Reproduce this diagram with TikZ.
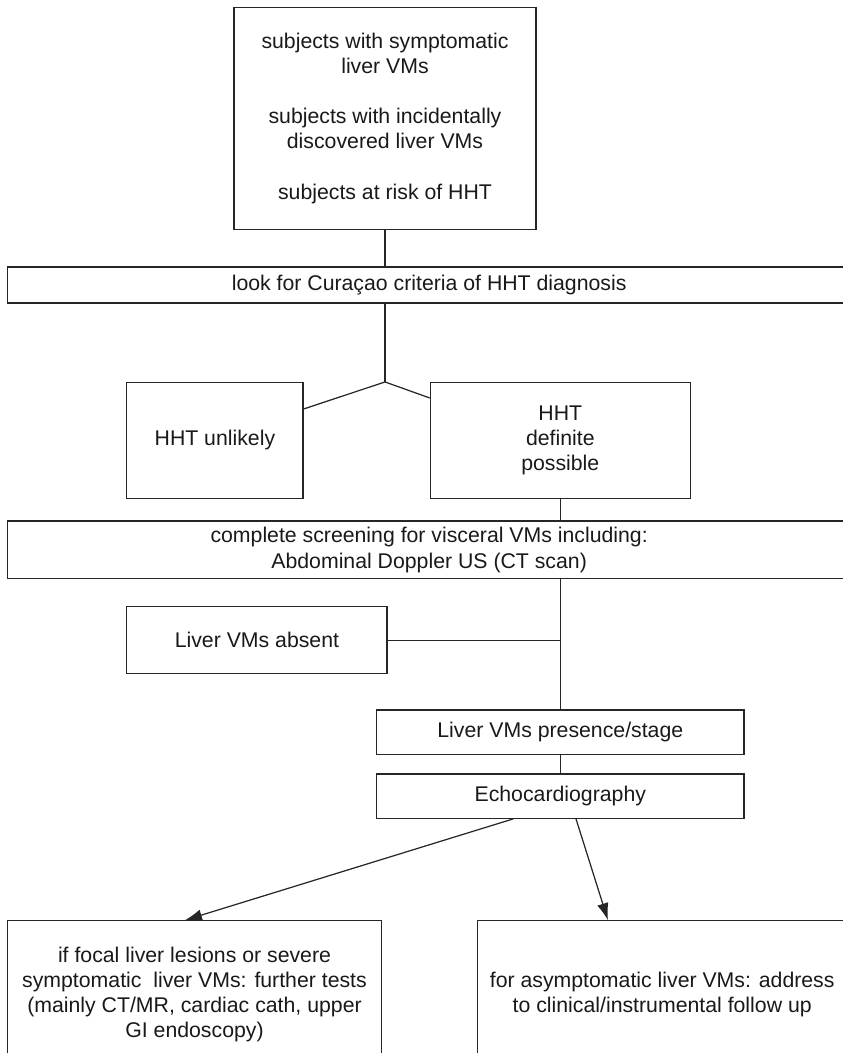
\documentclass[tikz,border=0pt]{standalone}
\usepackage{fontspec}
\setmainfont{Liberation Sans}
\usetikzlibrary{arrows.meta,positioning,calc}

\begin{document}
\begin{tikzpicture}[font=\fontsize{12.1}{14.3}\selectfont,node distance=4mm,line width=0.7pt,
  box/.style={draw=black!85,line width=0.7pt,align=center,inner sep=0pt,text=black!90},
  bar/.style={box,minimum width=168.74mm},
  link/.style={draw=black!85,line width=0.7pt},
  arrow/.style={link,-{Latex[length=3.4mm,width=2.3mm]}}]
\useasboundingbox (0,0) rectangle (168.6mm,-210.6mm);
\node[box,minimum width=60.4mm,minimum height=44.4mm] (subj) at (77mm,-23.66mm)
  {subjects with symptomatic\\liver VMs\\[5.06mm]subjects with incidentally\\discovered liver VMs\\[5.06mm]subjects at risk of HHT};
\node[bar,minimum height=7.2mm,below=7.3mm of subj,xshift=8.83mm] (cura) {look for Curaçao criteria of HHT diagnosis};
\node[box,minimum width=52mm,minimum height=23.14mm,below=15.66mm of cura,xshift=26.23mm] (definite) {HHT\\definite\\possible};
\node[box,minimum width=35.26mm,minimum height=23.14mm,left=25.2mm of definite] (unlikely) {HHT unlikely};
\node[bar,minimum height=11.54mm,below=4.32mm of definite,xshift=-26.23mm] (screen) {complete screening for visceral VMs including:\\Abdominal Doppler US (CT scan)};
\node[box,minimum width=52.06mm,minimum height=13.4mm,anchor=north west] (absent) at ([yshift=-5.34mm]screen.south -| unlikely.west) {Liver VMs absent};
\node[box,minimum width=73.46mm,minimum height=8.86mm,below=26mm of screen,xshift=26.23mm] (presence) {Liver VMs presence/stage};
\node[box,minimum width=73.46mm,minimum height=8.86mm,below=3.68mm of presence] (echo) {Echocardiography};
\node[box,minimum width=74.88mm,minimum height=29.54mm,below=20.26mm of echo,xshift=-73.16mm] (further)
  {if focal liver lesions or severe\\symptomatic~ liver VMs: further tests\\(mainly CT/MR, cardiac cath, upper\\GI endoscopy)};
\node[box,minimum width=74mm,minimum height=29.54mm,right=18.86mm of further] (follow)
  {for asymptomatic liver VMs: address\\to clinical/instrumental follow up};
\coordinate (split) at (subj.south |- definite.north);
\draw[link] (subj.south) -- (subj.south |- cura.north);
\draw[link] (subj.south |- cura.south) -- (split);
\draw[link] (split) -- ([yshift=-5.4mm]unlikely.north east);
\draw[link] (split) -- ([yshift=-3.2mm]definite.north west);
\draw[link] (definite.south) -- (definite.south |- screen.north);
\draw[link] (screen.south -| presence.north) -- (presence.north);
\draw[link] (absent.east) -- (absent.east -| presence.north);
\draw[link] (presence) -- (echo);
\draw[arrow] ([xshift=-9.4mm]echo.south) -- ([xshift=-1.9mm]further.north);
\draw[arrow] ([xshift=3.14mm]echo.south) -- ([xshift=-10.86mm]follow.north);
\end{tikzpicture}
\end{document}
